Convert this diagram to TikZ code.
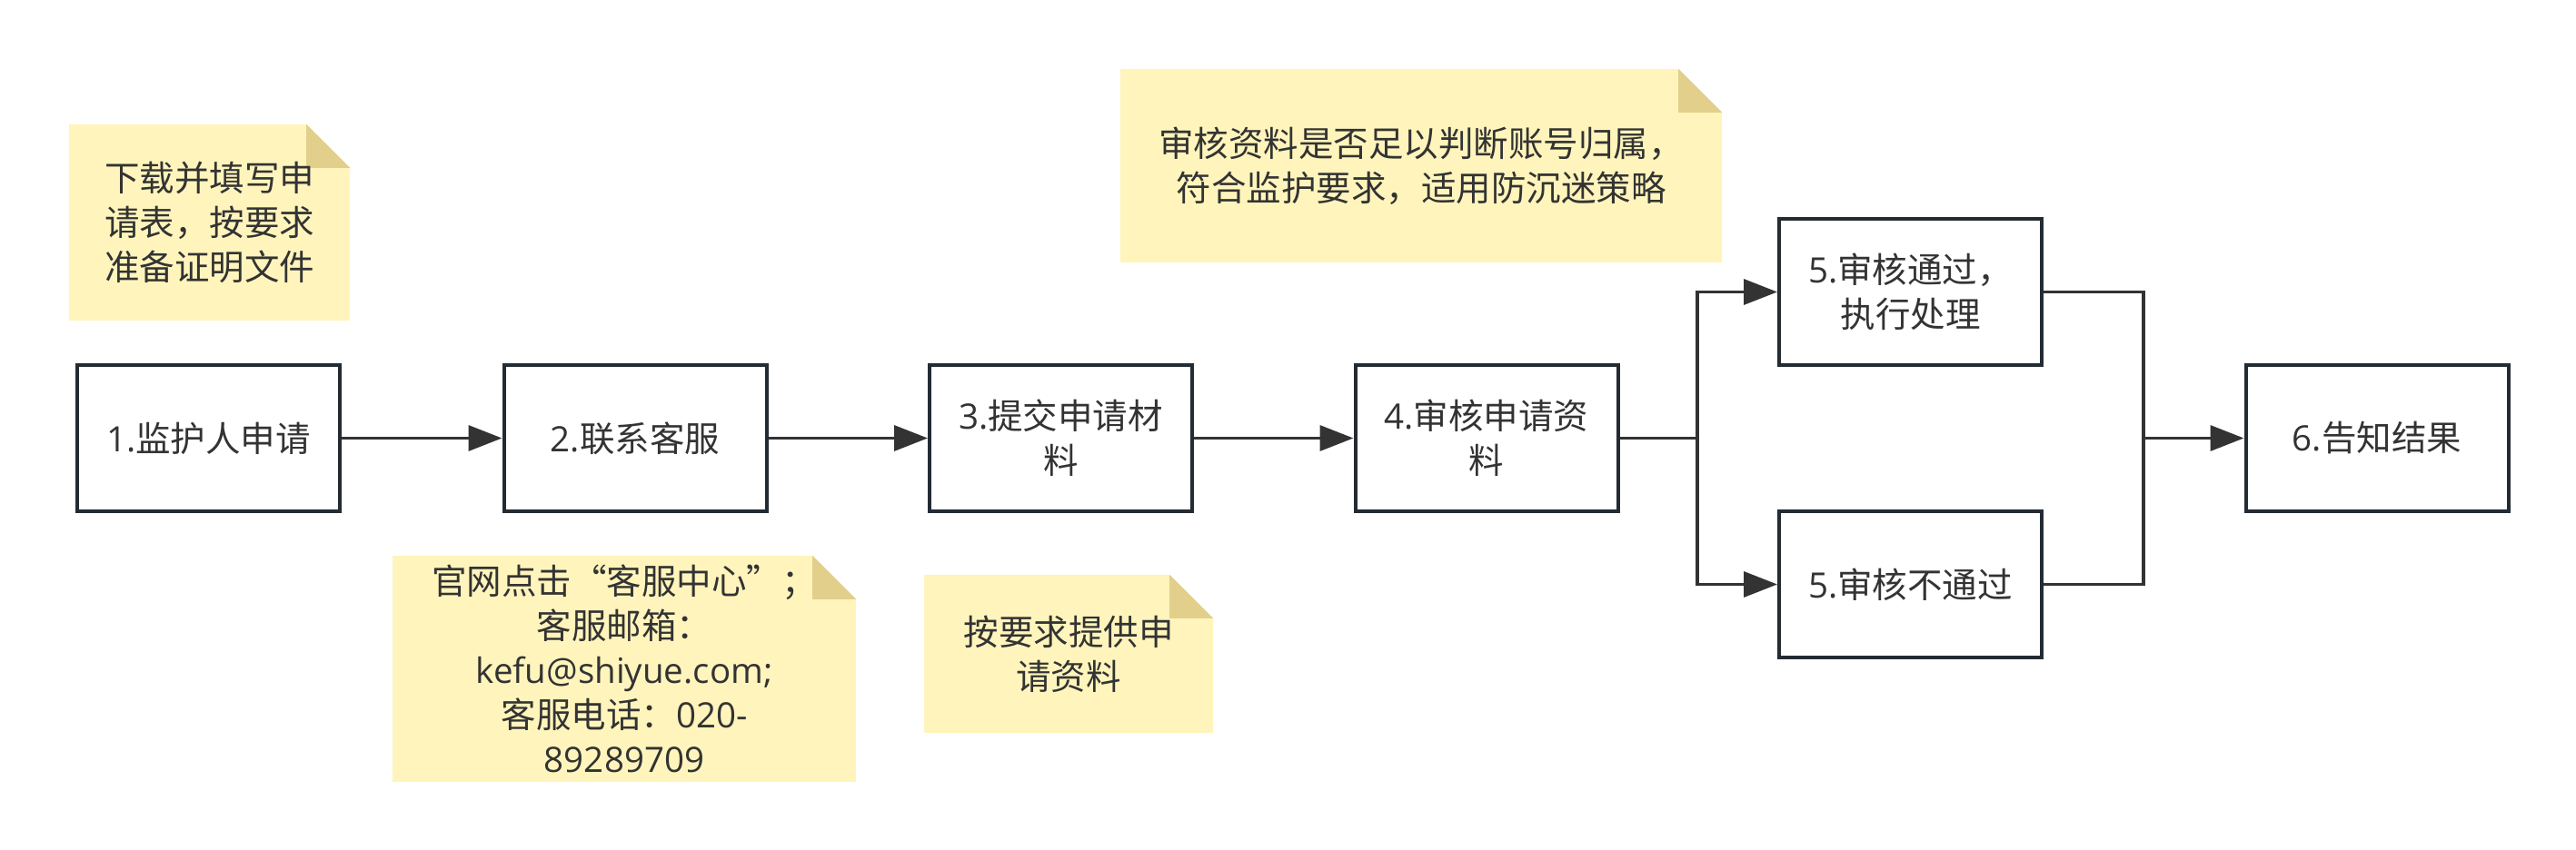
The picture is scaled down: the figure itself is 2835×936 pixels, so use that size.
\documentclass[tikz,border=0pt]{standalone}
\usepackage{fontspec}
\setmainfont{Noto Sans CJK SC}
\newfontfamily\latinfont{Open Sans}
\usetikzlibrary{arrows.meta,calc,backgrounds}
\definecolor{notefill}{HTML}{FFF5BC}
\definecolor{foldc}{HTML}{E2CF8B}
\definecolor{boxline}{HTML}{232B33}
\definecolor{txt}{HTML}{333333}
\definecolor{arrc}{HTML}{333333}
\tikzset{
  stepbox/.style={draw=boxline, line width=4pt, fill=white, rectangle,
    minimum width=289pt, minimum height=161pt, inner sep=0pt,
    align=center, text=txt, font=\fontsize{38.5}{49}\selectfont},
  notebox/.style={rectangle, inner sep=0pt, align=center, text=txt,
    font=\fontsize{38.5}{49}\selectfont},
  arr/.style={draw=arrc, line width=3.4pt,
    -{Triangle[length=37pt,width=28pt]}},
  link/.style={draw=arrc, line width=3.4pt},
  notefold/.style={fill=foldc},
  notebody/.style={fill=notefill}
}
\newcommand{\notedraw}[1]{%
  \fill[notebody] (#1.north west) -- ($(#1.north east)+(-48,0)$) -- ($(#1.north east)+(0,48)$) -- (#1.south east) -- (#1.south west) -- cycle;
  \fill[notefold] ($(#1.north east)+(-48,0)$) -- ($(#1.north east)+(-48,48)$) -- ($(#1.north east)+(0,48)$) -- cycle;
}
\newcommand{\lt}[1]{{\latinfont #1}}
\begin{document}
\begin{tikzpicture}[x=1pt, y=-1pt]
\useasboundingbox (0,0) rectangle (2835,936);

% notes
\node[notebox, minimum width=309pt, minimum height=216pt] (nA) at (230.5,245) {下载并填写申\\请表，按要求\\准备证明文件};
\node[notebox, minimum width=510pt, minimum height=249pt] (nB) at (687,736.5) {官网点击“客服中心”；\\客服邮箱：\\\lt{kefu@shiyue.com;}\\客服电话：\lt{020-}\\\lt{89289709}};
\node[notebox, minimum width=318pt, minimum height=174pt] (nC) at (1176,720) {按要求提供申\\请资料};
\node[notebox, minimum width=662pt, minimum height=213pt] (nD) at (1564,182.5) {审核资料是否足以判断账号归属，\\符合监护要求，适用防沉迷策略};
\begin{scope}[on background layer]
  \notedraw{nA}
  \notedraw{nB}
  \notedraw{nC}
  \notedraw{nD}
\end{scope}

% steps
\node[stepbox] (b1) at (229.5,482.5) {\lt{1.}监护人申请};
\node[stepbox] (b2) at (699,482.5) {\lt{2.}联系客服};
\node[stepbox] (b3) at (1167.5,482.5) {\lt{3.}提交申请材\\料};
\node[stepbox] (b4) at (1636,482.5) {\lt{4.}审核申请资\\料};
\node[stepbox] (b5a) at (2102.5,321.5) {\lt{5.}审核通过，\\执行处理};
\node[stepbox] (b5b) at (2102.5,643.5) {\lt{5.}审核不通过};
\node[stepbox] (b6) at (2616,482.5) {\lt{6.}告知结果};

\coordinate (jL) at (1868,482.5);
\coordinate (jR) at (2359,482.5);

\draw[arr] (b1.east) -- (b2.west);
\draw[arr] (b2.east) -- (b3.west);
\draw[arr] (b3.east) -- (b4.west);
\draw[link] (b4.east) -- (jL);
\draw[arr] (jL) |- (b5a.west);
\draw[arr] (jL) |- (b5b.west);
\draw[link] (b5a.east) -| (jR);
\draw[link] (b5b.east) -| (jR);
\draw[arr] (jR) -- (b6.west);
\end{tikzpicture}
\end{document}
